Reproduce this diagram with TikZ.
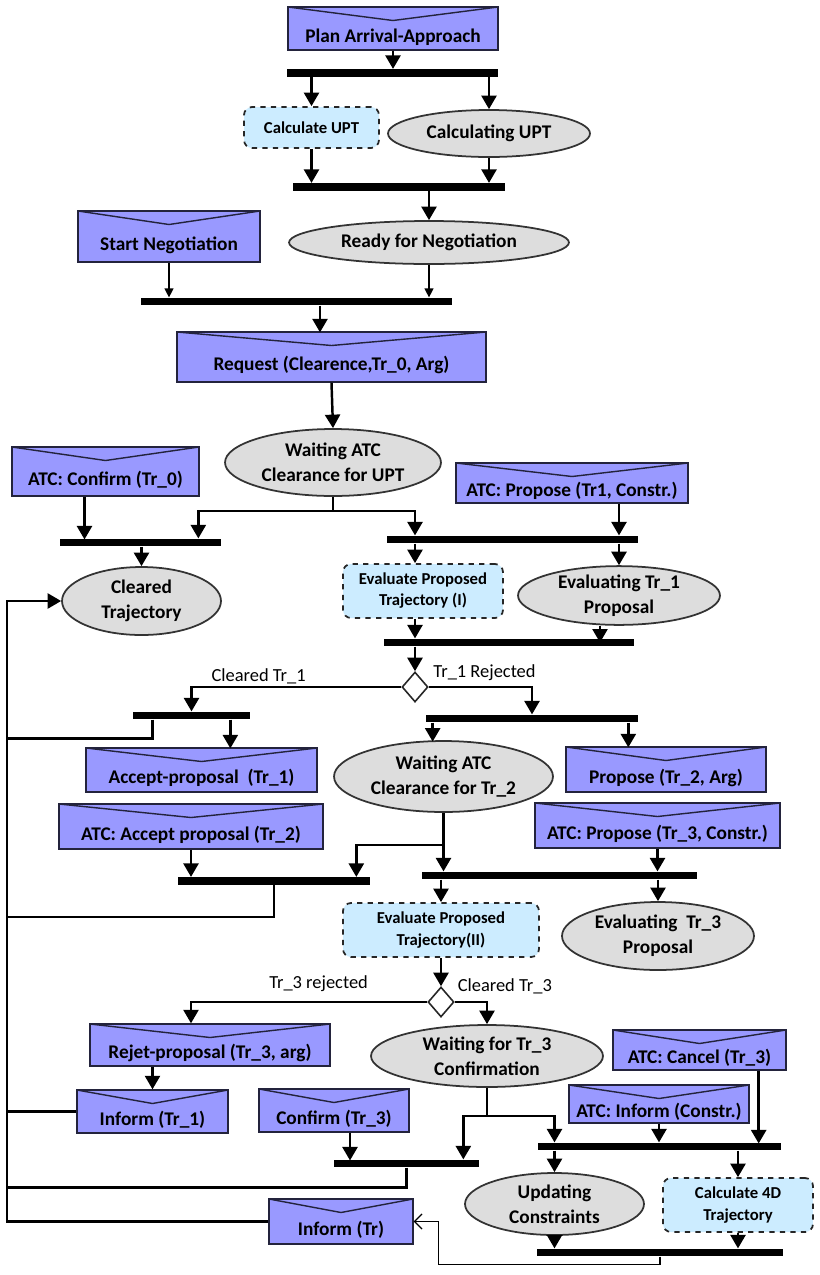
\documentclass[tikz,border=0pt]{standalone}
\usepackage{fontspec}
\setmainfont{Carlito}
\usetikzlibrary{shapes.geometric, arrows.meta, positioning, calc}

\definecolor{sigblue}{RGB}{153,153,255}
\definecolor{sigline}{RGB}{35,35,60}
\definecolor{actcyan}{RGB}{204,236,255}
\definecolor{stategrey}{RGB}{221,221,221}

\begin{document}
\begin{tikzpicture}[
  x=0.02cm, y=-0.02cm,
  signal/.style={rectangle, draw=sigline, fill=sigblue, line width=0.8pt, inner sep=0pt,
    text height=0.59cm, text depth=0.05cm, font=\fontsize{11}{13}\selectfont\bfseries,
    path picture={\draw[sigline, line width=0.8pt] (path picture bounding box.north west)
      -- ([yshift=-0.27cm]path picture bounding box.north) -- (path picture bounding box.north east);}},
  activity/.style={rectangle, rounded corners=0.16cm, draw=black!85, dashed, line width=1pt,
    fill=actcyan, align=center, inner sep=0pt, font=\fontsize{9.5}{12}\selectfont\bfseries},
  state/.style={ellipse, draw=black!80, line width=1pt, fill=stategrey, align=center,
    inner sep=0pt, font=\fontsize{11}{14.2}\selectfont\bfseries},
  syncbar/.style={rectangle, fill=black, inner sep=0pt, minimum height=0.15cm},
  decision/.style={diamond, draw=black!85, line width=0.9pt, fill=white, inner sep=0pt,
    minimum width=0.52cm, minimum height=0.6cm},
  flow/.style={-{Triangle[width=0.3cm,length=0.27cm]}, line width=1.4pt},
  thinflow/.style={-{Triangle[width=0.18cm,length=0.18cm]}, line width=0.7pt},
  backflow/.style={-{Straight Barb[width=0.3cm,length=0.15cm]}, line width=0.7pt},
  wire/.style={line width=1.4pt},
  lbl/.style={font=\fontsize{10.5}{12}\selectfont, inner sep=1pt}
]
\useasboundingbox (0,0) rectangle (820,1275);
\coordinate (rail) at (7,0);

% Plan and UPT calculation
\node[signal, minimum width=4.2cm, minimum height=0.86cm] (plan) at (393,28.5) {Plan Arrival-Approach};
\node[syncbar, minimum width=4.22cm] (bar1) at (392.5,73) {};
\node[activity, minimum width=2.7cm, minimum height=0.82cm] (calcupt) at (311.5,127.5) {Calculate UPT};
\node[state, minimum width=4.04cm, minimum height=0.94cm] (calcing) at (489,133.5) {Calculating UPT};
\node[syncbar, minimum width=4.24cm] (bar2) at (399,187) {};
\node[state, minimum width=5.6cm, minimum height=0.86cm] (ready) at (429,242.5) {Ready for Negotiation};
\node[signal, minimum width=3.64cm, minimum height=1.02cm] (start) at (169,236.5) {Start Negotiation};
\node[syncbar, minimum width=6.22cm] (bar3) at (296.5,301.5) {};

\draw[flow] (plan.south) -- (plan.south |- bar1.north);
\draw[flow] (bar1.south -| calcupt) -- (calcupt.north);
\draw[flow] (bar1.south -| calcing) -- (calcing.north);
\draw[flow] (calcupt.south) -- (calcupt.south |- bar2.north);
\draw[flow] (calcing.south) -- (calcing.south |- bar2.north);
\draw[flow] (bar2.south -| ready) -- (ready.north);
\draw[thinflow] (start.south) -- (start.south |- bar3.north);
\draw[thinflow] (ready.south) -- (ready.south |- bar3.north);

% Request and first answer
\node[signal, minimum width=6.18cm, minimum height=1.0cm] (request) at (331.5,357) {Request (Clearence,Tr\_0, Arg)};
\node[state, minimum width=4.32cm, minimum height=1.34cm] (waitupt) at (333,462.5) {Waiting ATC\\Clearance for UPT};
\node[signal, minimum width=3.74cm, minimum height=0.98cm] (confirm0) at (105.5,471.5) {ATC: Confirm (Tr\_0)};
\node[signal, minimum width=4.64cm, minimum height=0.8cm] (propose1) at (572,483) {ATC: Propose (Tr1, Constr.)};
\node[syncbar, minimum width=3.22cm] (bar4) at (140.5,542.5) {};
\node[syncbar, minimum width=5.02cm] (bar5) at (512.5,539.5) {};
\node[state, minimum width=3.18cm, minimum height=1.36cm] (cleared) at (141.5,601) {Cleared\\Trajectory};
\node[activity, minimum width=3.2cm, minimum height=1.08cm] (evalI) at (423,591) {Evaluate Proposed\\Trajectory (I)};
\node[state, minimum width=4.04cm, minimum height=1.06cm] (evaltr1) at (619,595.5) {Evaluating Tr\_1\\Proposal};
\node[syncbar, minimum width=5.0cm] (bar6) at (509,642.5) {};
\node[decision] (dec1) at (415,687) {};

\draw[flow] ($(bar3.south)+(23.5,0)$) -- ++(0,26.75);
\draw[flow] (request.south) -- (waitupt.north);
\draw[wire] (waitupt.south) -- ++(0,14) coordinate (split1);
\draw[flow] (split1) -| ($(bar4.north east)+(-23,0)$);
\draw[flow] (split1) -| (bar5.north -| dec1);
\draw[flow] ($(confirm0.south)+(-21,0)$) -- ++(0,42.75);
\draw[flow] (propose1.south -| evaltr1) -- (bar5.north -| evaltr1);
\draw[flow] (bar4.south -| cleared) -- (cleared.north);
\draw[flow] (bar5.south -| dec1) -- (evalI.north -| dec1);
\draw[flow] (bar5.south -| evaltr1) -- (evaltr1.north);
\draw[flow] (evalI.south -| dec1) -- (bar6.north -| dec1);
\draw[flow] ($(evaltr1.south)+(-19,0)$) -- ++(0,16.75);
\draw[flow] (bar6.south -| dec1) -- (dec1.north);

% Second round
\node[syncbar, minimum width=2.34cm] (bar7) at (191.5,715.5) {};
\node[syncbar, minimum width=4.24cm] (bar8) at (532,718.5) {};
\node[signal, minimum width=4.62cm, minimum height=0.88cm] (accept1) at (201.5,770) {Accept-proposal~ (Tr\_1)};
\node[state, minimum width=4.38cm, minimum height=1.42cm] (waittr2) at (443.5,776.5) {Waiting ATC\\Clearance for Tr\_2};
\node[signal, minimum width=4.0cm, minimum height=0.9cm] (propose2) at (666,769.5) {Propose (Tr\_2, Arg)};
\node[signal, minimum width=5.28cm, minimum height=0.9cm] (accept2) at (191,826.5) {ATC: Accept proposal (Tr\_2)};
\node[signal, minimum width=4.9cm, minimum height=0.9cm] (propose3) at (657.5,825.5) {ATC: Propose (Tr\_3, Constr.)};
\node[syncbar, minimum width=3.84cm] (bar9) at (274,881) {};
\node[syncbar, minimum width=5.5cm] (bar10) at (559.5,875.5) {};
\node[activity, minimum width=3.92cm, minimum height=1.08cm] (evalII) at (441,930) {Evaluate Proposed\\Trajectory(II)};
\node[state, minimum width=3.84cm, minimum height=1.36cm] (evaltr3) at (658,936) {Evaluating~ Tr\_3\\Proposal};
\node[decision] (dec2) at (441,1002) {};

\draw[flow] (dec1.west) -| (bar7.north) node[lbl, pos=0.34, above] {Cleared Tr\_1};
\draw[flow] (dec1.east) -| (bar8.north) node[lbl, pos=0.27, above, yshift=0.06cm] {Tr\_1 Rejected};
\draw[flow] ($(bar7.south east)+(-20,0)$) -- ++(0,28.75);
\draw[wire] ($(bar7.south west)+(20,0)$) |- ++(-146,19);
\draw[flow] ($(bar8.south west)+(7,0)$) -- ++(0,19);
\draw[flow] ($(bar8.south east)+(-10,0)$) -- ++(0,24.75);
\draw[flow] (waittr2.south) -- (waittr2.south |- bar10.north);
\draw[flow] ($(waittr2.south)+(0,32)$) -| ($(bar9.north east)+(-14,0)$);
\draw[flow] (accept2.south) -- (accept2.south |- bar9.north);
\draw[flow] (propose3.south) -- (propose3.south |- bar10.north);
\draw[wire] (bar9.south) |- ++(-267,32);
\draw[flow] (bar10.south -| evalII) -- (evalII.north);
\draw[flow] (bar10.south -| evaltr3) -- (evaltr3.north);
\draw[flow] (evalII.south) -- (dec2.north);

% Confirmation and constraints
\node[signal, minimum width=4.8cm, minimum height=0.84cm] (reject3) at (210,1045) {Rejet-proposal (Tr\_3, arg)};
\node[state, minimum width=4.64cm, minimum height=1.24cm] (waittr3) at (487,1056) {Waiting for Tr\_3\\Confirmation};
\node[signal, minimum width=3.46cm, minimum height=0.8cm] (cancel3) at (699.5,1050) {ATC: Cancel (Tr\_3)};
\node[signal, minimum width=3.02cm, minimum height=0.86cm] (inform1) at (152.5,1111.5) {Inform (Tr\_1)};
\node[signal, minimum width=3.0cm, minimum height=0.86cm] (confirm3) at (334,1110.5) {Confirm (Tr\_3)};
\node[signal, minimum width=3.6cm, minimum height=0.76cm] (informc) at (659,1104) {ATC: Inform (Constr.)};
\node[syncbar, minimum width=2.9cm] (bar11) at (406.5,1163.5) {};
\node[syncbar, minimum width=4.86cm] (bar12) at (659.5,1146.5) {};
\node[state, minimum width=3.58cm, minimum height=1.24cm] (updating) at (554.5,1204) {Updating\\Constraints};
\node[activity, minimum width=3.0cm, minimum height=1.08cm] (calc4d) at (738,1205) {Calculate 4D\\Trajectory};
\node[signal, minimum width=2.88cm, minimum height=0.9cm] (informtr) at (341,1221.5) {Inform (Tr)};
\node[syncbar, minimum width=4.92cm] (bar13) at (660,1252.5) {};

\draw[flow] (dec2.west) -| ($(reject3.north)+(-19,0)$) node[lbl, pos=0.23, above, yshift=0.14cm] {Tr\_3 rejected};
\draw[flow] (dec2.east) -| (waittr3.north) node[lbl, pos=0, anchor=south west, yshift=0.11cm] {Cleared Tr\_3};
\draw[flow] (reject3.south -| inform1) -- (inform1.north);
\draw[wire] (inform1.west) -- (inform1.west -| rail);
\draw[flow] ($(confirm3.south)+(16,0)$) -- ++(0,27.75);
\draw[wire] (waittr3.south) -- ++(0,28) coordinate (split3);
\draw[flow] (split3) -| ($(bar11.north east)+(-16,0)$);
\draw[flow] (split3) -| (bar12.north -| updating);
\draw[flow] (informc.south) -- (informc.south |- bar12.north);
\draw[flow] ($(cancel3.south east)+(-28,0)$) -- ++(0,72.75);
\draw[wire] (bar11.south) |- ++(-399.5,20);
\draw[flow] (bar12.south -| updating) -- (updating.north);
\draw[flow] (bar12.south -| calc4d) -- (calc4d.north);
\draw[flow] (updating.south) -- (updating.south |- bar13.north);
\draw[flow] (calc4d.south) -- (calc4d.south |- bar13.north);
\draw[backflow] (bar13.south) -- ++(0,8) -| ($(informtr.east)+(25,0)$) -- (informtr.east);

% Loop back to cleared trajectory
\draw[flow] (informtr.west) -- (informtr.west -| rail) |- (cleared.west);

\end{tikzpicture}
\end{document}
